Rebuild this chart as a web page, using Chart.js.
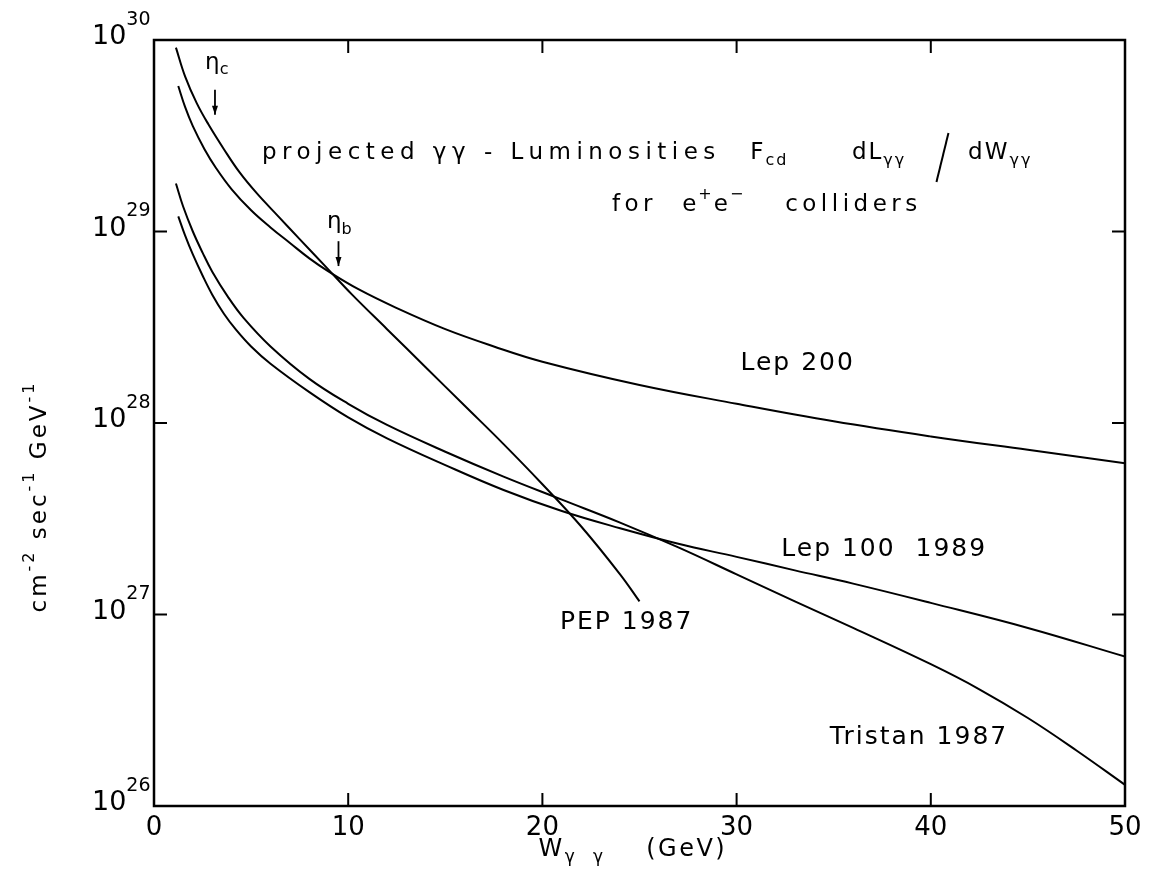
<!DOCTYPE html>
<html>
<head>
<meta charset="utf-8">
<script src="https://cdn.jsdelivr.net/npm/chart.js@4.4.1/dist/chart.umd.min.js"></script>
<style>
  html, body { margin: 0; padding: 0; background: #fff; }
</style>
</head>
<body>
<canvas id="lumi" width="1152" height="892"></canvas>
<script>
// W_gg in GeV, luminosity in cm^-2 sec^-1 GeV^-1
var pepW   = [1.13, 1.6, 2.2, 2.8, 3.6, 4.4, 5.3, 6.4, 7.5, 8.9, 10.2, 12, 14, 16, 18, 20, 22, 24, 25];
var pepL   = [9.12e29, 6.46e29, 4.68e29, 3.63e29, 2.69e29, 2.04e29, 1.58e29, 1.20e29, 9.12e28, 6.46e28,
              4.68e28, 3.09e28, 1.95e28, 1.23e28, 7.76e27, 4.79e27, 2.88e27, 1.62e27, 1.17e27];

var lep200W = [1.25, 1.6, 2, 2.6, 3.2, 4, 5, 6, 7, 8, 9, 10.5, 12.5, 15, 17.5, 20, 25, 30, 35, 40, 45, 50];
var lep200L = [5.75e29, 4.47e29, 3.55e29, 2.69e29, 2.14e29, 1.66e29, 1.29e29, 1.05e29, 8.71e28, 7.24e28, 6.17e28,
               5.01e28, 3.98e28, 3.09e28, 2.51e28, 2.09e28, 1.58e28, 1.26e28, 1.02e28, 8.51e27, 7.24e27, 6.17e27];

var lep100W = [1.25, 1.6, 2, 2.5, 3, 3.6, 4.2, 5, 6, 8, 10, 12, 15, 18, 21, 24, 27, 30, 33, 36, 40, 45, 50];
var lep100L = [1.20e29, 9.55e28, 7.59e28, 5.89e28, 4.68e28, 3.72e28, 3.09e28, 2.51e28, 2.04e28, 1.45e28, 1.07e28,
               8.32e27, 6.03e27, 4.47e27, 3.47e27, 2.82e27, 2.34e27, 2.0e27, 1.70e27, 1.45e27, 1.15e27, 8.51e26, 6.03e26];

var tristanW = [1.13, 1.5, 2, 2.5, 3, 3.8, 4.6, 6, 8, 10, 12, 15, 18, 21, 24, 27, 30, 33, 36, 40, 42.5, 45, 47.5, 50];
var tristanL = [1.78e29, 1.35e29, 1.0e29, 7.76e28, 6.17e28, 4.57e28, 3.55e28, 2.51e28, 1.70e28, 1.26e28, 9.77e27,
                7.08e27, 5.25e27, 3.98e27, 3.02e27, 2.24e27, 1.62e27, 1.17e27, 8.51e26, 5.50e26, 4.07e26,
                2.88e26, 1.95e26, 1.29e26];

// axis ticks
var xTicks = [0, 10, 20, 30, 40, 50];
var yExps  = [26, 27, 28, 29, 30];

var FONT = '"DejaVu Sans", sans-serif';

function pts(ws, ls) {
  return ws.map(function (w, i) { return { x: w, y: ls[i] }; });
}

function curve(ws, ls) {
  return {
    data: pts(ws, ls),
    borderColor: '#000',
    borderWidth: 2,
    pointRadius: 0,
    fill: false,
    tension: 0.4
  };
}

// write a string made of pieces: normal / sub / sup
function segText(ctx, x, y, segs, size, spacing) {
  ctx.letterSpacing = (spacing || 0) + 'px';
  segs.forEach(function (s) {
    var t = s[0], k = s[1] || 'n';
    var fs = k === 'n' ? size : Math.round(size * 0.7);
    var dy = k === 'sub' ? size * 0.32 : (k === 'sup' ? -size * 0.42 : 0);
    ctx.font = fs + 'px ' + FONT;
    ctx.fillText(t, x, y + dy);
    x += ctx.measureText(t).width;
  });
  ctx.letterSpacing = '0px';
  return x;
}

// labels placed at data coordinates (W, luminosity)
var notes = [
  { w: 5.56, l: 2.57e29, size: 23, sp: 5.5, segs: [['projected γγ - Luminosities']] },
  { w: 30.7, l: 2.57e29, size: 23, sp: 2, segs: [['F'], ['cd', 'sub']] },
  { w: 35.94, l: 2.57e29, size: 23, sp: 2, segs: [['dL'], ['γγ', 'sub']] },
  { w: 41.92, l: 2.57e29, size: 23, sp: 2, segs: [['dW'], ['γγ', 'sub']] },
  { w: 23.58, l: 1.38e29, size: 23, sp: 4.5, segs: [['for']] },
  { w: 27.2, l: 1.38e29, size: 23, sp: 2, segs: [['e'], ['+', 'sup'], ['e'], ['−', 'sup']] },
  { w: 32.5, l: 1.38e29, size: 23, sp: 4.5, segs: [['colliders']] },
  { w: 2.63, l: 7.6e29, size: 23, sp: 0, segs: [['η'], ['c', 'sub']] },
  { w: 8.91, l: 1.12e29, size: 23, sp: 0, segs: [['η'], ['b', 'sub']] },
  { w: 30.2, l: 2.04e28, size: 25, sp: 2, segs: [['Lep 200']] },
  { w: 32.3, l: 2.19e27, size: 25, sp: 2, segs: [['Lep 100  1989']] },
  { w: 20.9, l: 9.1e26, size: 25, sp: 2, segs: [['PEP 1987']] },
  { w: 34.8, l: 2.29e26, size: 25, sp: 2, segs: [['Tristan 1987']] }
];

// resonance arrows: W position, from / to luminosity
var arrows = [
  { w: 3.14, from: 5.5e29, to: 4.07e29 },
  { w: 9.5, from: 8.9e28, to: 6.6e28 }
];

var decor = {
  id: 'decor',
  afterDraw: function (chart) {
    var ctx = chart.ctx, a = chart.chartArea;
    var xs = chart.scales.x, ys = chart.scales.y;
    ctx.save();
    ctx.strokeStyle = '#000';
    ctx.fillStyle = '#000';

    // frame
    ctx.lineWidth = 2.5;
    ctx.strokeRect(a.left, a.top, a.right - a.left, a.bottom - a.top);

    // inward ticks
    ctx.lineWidth = 2;
    ctx.beginPath();
    xTicks.forEach(function (v) {
      var px = xs.getPixelForValue(v);
      if (v > 0 && v < 50) {
        ctx.moveTo(px, a.bottom); ctx.lineTo(px, a.bottom - 13);
        ctx.moveTo(px, a.top); ctx.lineTo(px, a.top + 13);
      }
    });
    yExps.forEach(function (e) {
      var py = ys.getPixelForValue(Math.pow(10, e));
      if (e > 26 && e < 30) {
        ctx.moveTo(a.left, py); ctx.lineTo(a.left + 13, py);
        ctx.moveTo(a.right, py); ctx.lineTo(a.right - 13, py);
      }
    });
    ctx.stroke();

    // the big fraction slash between dL and dW
    var sx = xs.getPixelForValue(40.6), sy = ys.getPixelForValue(2.57e29) + 4;
    ctx.lineWidth = 2;
    ctx.beginPath();
    ctx.moveTo(sx - 6, sy + 25);
    ctx.lineTo(sx + 6, sy - 24);
    ctx.stroke();

    ctx.textBaseline = 'middle';

    // x tick labels
    ctx.textAlign = 'center';
    ctx.font = '26px ' + FONT;
    xTicks.forEach(function (v) {
      ctx.fillText(String(v), xs.getPixelForValue(v), a.bottom + 22);
    });

    // y tick labels 10^n
    ctx.textAlign = 'left';
    yExps.forEach(function (e) {
      var py = ys.getPixelForValue(Math.pow(10, e));
      ctx.font = '27px ' + FONT;
      var w10 = ctx.measureText('10').width;
      var x0 = a.left - 62;
      ctx.fillText('10', x0, py - 3);
      ctx.font = '19px ' + FONT;
      ctx.fillText(String(e), x0 + w10, py - 20);
    });

    // x title
    segText(ctx, xs.getPixelForValue(19.8), a.bottom + 44, [['W'], ['γ  γ', 'sub'], ['    (GeV)']], 24, 2.5);

    // y title, rotated
    ctx.save();
    ctx.translate(40, ys.getPixelForValue(1e27) - 2);
    ctx.rotate(-Math.PI / 2);
    segText(ctx, 0, 0, [['cm'], ['-2', 'sup'], [' sec'], ['-1', 'sup'], [' GeV'], ['-1', 'sup']], 23, 3);
    ctx.restore();

    // annotations
    notes.forEach(function (n) {
      segText(ctx, xs.getPixelForValue(n.w), ys.getPixelForValue(n.l), n.segs, n.size, n.sp);
    });

    // arrows
    ctx.lineWidth = 1.8;
    arrows.forEach(function (r) {
      var px = xs.getPixelForValue(r.w);
      var y1 = ys.getPixelForValue(r.from), y2 = ys.getPixelForValue(r.to);
      ctx.beginPath();
      ctx.moveTo(px, y1); ctx.lineTo(px, y2);
      ctx.stroke();
      ctx.beginPath();
      ctx.moveTo(px - 3, y2 - 9); ctx.lineTo(px + 3, y2 - 9); ctx.lineTo(px, y2);
      ctx.closePath();
      ctx.fill();
    });
    ctx.restore();
  }
};

new Chart(document.getElementById('lumi'), {
  type: 'line',
  data: {
    datasets: [
      curve(pepW, pepL),
      curve(lep200W, lep200L),
      curve(lep100W, lep100L),
      curve(tristanW, tristanL)
    ]
  },
  options: {
    responsive: false,
    animation: false,
    devicePixelRatio: 1,
    layout: { padding: { left: 154, top: 40, right: 27, bottom: 86 } },
    plugins: { legend: { display: false }, tooltip: { enabled: false } },
    scales: {
      x: { type: 'linear', min: 0, max: 50, display: false },
      y: { type: 'logarithmic', min: 1e26, max: 1e30, display: false }
    }
  },
  plugins: [decor]
});
</script>
</body>
</html>
